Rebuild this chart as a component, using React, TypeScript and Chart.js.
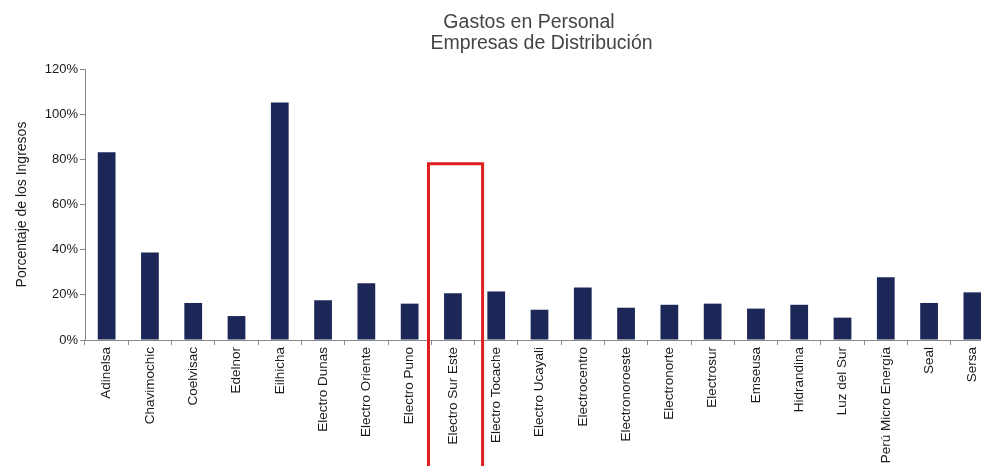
import React, { useEffect, useRef } from "react";
import { Chart, registerables } from "chart.js";

Chart.register(...registerables);

const categories = [
  "Adinelsa", "Chavimochic", "Coelvisac", "Edelnor", "Eilhicha", "Electro Dunas",
  "Electro Oriente", "Electro Puno", "Electro Sur Este", "Electro Tocache",
  "Electro Ucayali", "Electrocentro", "Electronoroeste", "Electronorte", "Electrosur",
  "Emseusa", "Hidrandina", "Luz del Sur", "Perú Micro Energía", "Seal", "Sersa",
];
const values = [
  83.1, 38.8, 16.4, 10.6, 105.2, 17.6, 25.1, 16.1, 20.7, 21.5,
  13.4, 23.3, 14.3, 15.6, 16.1, 13.9, 15.6, 9.9, 27.8, 16.4, 21.1,
];
const titleLines = ["Gastos en Personal", "Empresas de Distribución"];
const yTitle = "Porcentaje de los Ingresos";
const highlightIndex = 8;
const highlightTop = 78;

const FONT = "'Liberation Sans', Arial, sans-serif";

export default function App() {
  const ref = useRef<HTMLCanvasElement>(null);
  useEffect(() => {
    if (!ref.current) return;
    const titlePlugin = {
      id: "titles",
      afterDraw(chart: any) {
        const ctx = chart.ctx;
        ctx.save();
        ctx.fillStyle = "#444";
        ctx.font = `19.5px ${FONT}`;
        ctx.textAlign = "center";
        ctx.textBaseline = "alphabetic";
        ctx.fillText(titleLines[0], 529, 28);
        ctx.fillText(titleLines[1], 541.5, 49);
        // highlight box
        const xs = chart.scales.x;
        const ys = chart.scales.y;
        const step = xs.width / categories.length;
        const cx = xs.getPixelForValue(highlightIndex) + step * 0.06;
        const half = step / 2 * 1.25;
        const top = ys.getPixelForValue(highlightTop);
        ctx.strokeStyle = "#dd1f1f";
        ctx.lineWidth = 3;
        ctx.beginPath();
        ctx.moveTo(cx - half, chart.height + 5);
        ctx.lineTo(cx - half, top);
        ctx.lineTo(cx + half, top);
        ctx.lineTo(cx + half, chart.height + 5);
        ctx.stroke();
        ctx.restore();
      },
    };
    const chart = new Chart(ref.current, {
      type: "bar",
      data: {
        labels: categories,
        datasets: [
          {
            data: values,
            backgroundColor: "#1c2657",
            barPercentage: 0.41,
            categoryPercentage: 1,
          },
        ],
      },
      options: {
        responsive: false,
        animation: false,
        devicePixelRatio: 1,
        layout: { padding: { top: 69, left: 0, right: 2, bottom: 0 } },
        plugins: { legend: { display: false }, tooltip: { enabled: false }, title: { display: false } },
        scales: {
          x: {
            grid: { display: true, drawOnChartArea: false, offset: true, tickLength: 5, color: "#888" },
            border: { display: true, color: "#888", width: 1 },
            ticks: {
              autoSkip: false,
              maxRotation: 90,
              minRotation: 90,
              padding: 2,
              color: "#1a1a1a",
              font: { family: FONT, size: 13.5 },
            },
            afterFit(scale: any) {
              scale.height = 126;
            },
          },
          y: {
            min: 0,
            max: 120,
            grid: { display: true, drawOnChartArea: false, tickLength: 5, color: "#888" },
            border: { display: true, color: "#888", width: 1 },
            ticks: {
              stepSize: 20,
              padding: 2,
              color: "#1a1a1a",
              font: { family: FONT, size: 13 },
              callback: (v: any) => v + "%",
            },
            title: {
              display: true,
              text: yTitle,
              color: "#1a1a1a",
              font: { family: FONT, size: 14 },
              padding: { top: 14, bottom: 0 },
            },
            afterFit(scale: any) {
              scale.width = 85;
            },
          },
        },
      },
      plugins: [titlePlugin],
    });
    return () => chart.destroy();
  }, []);
  return (
    <div
      style={{
        position: "fixed",
        left: 0,
        top: 0,
        width: 981,
        height: 466,
        overflow: "hidden",
        background: "#fff",
      }}
    >
      <canvas ref={ref} width={996} height={466} style={{ display: "block" }} />
    </div>
  );
}
